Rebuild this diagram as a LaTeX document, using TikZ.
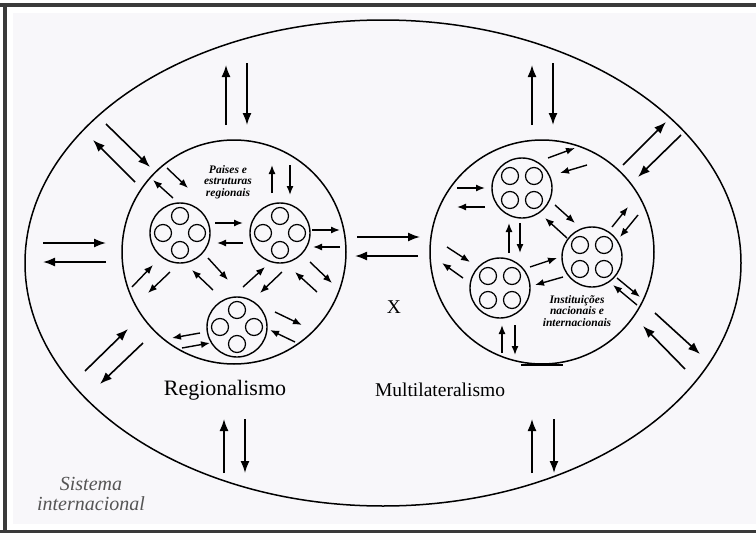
\documentclass[tikz,border=0pt]{standalone}
\usepackage{fontspec}
\setmainfont{Liberation Serif}
\usepackage{tikz}
\usetikzlibrary{arrows.meta}
\definecolor{framegray}{RGB}{58,58,58}
\definecolor{paper}{RGB}{248,247,250}
\definecolor{labelgray}{RGB}{85,85,85}
\tikzstyle{system} = [line width=1.5pt]
\tikzstyle{bloc} = [circle, draw=black, line width=1.5pt, minimum
    size=224pt, inner sep=0pt]
\tikzstyle{member} = [circle, draw=black, line width=1.4pt, minimum
    size=60pt, inner sep=0pt]
\tikzstyle{unit} = [line width=1.2pt]
\tikzstyle{arrow} = [line width=1.6pt, -{Latex[length=12pt,width=9pt]}]
\tikzstyle{smallarrow} = [line width=1.4pt, -{Latex[length=9pt,width=7pt]}]
\tikzstyle{tag} = [font=\fontsize{11.5}{11.5}\selectfont\bfseries\itshape,
    align=center, inner sep=0pt]
\tikzstyle{title} = [font=\fontsize{19.5}{19.5}\selectfont, inner sep=0pt]

\begin{document}
\begin{tikzpicture}[x=1pt,y=-1pt]
            \useasboundingbox (0,0) rectangle (756,533);
            % Frame
            \fill[white] (0,0) rectangle (756,533);
            \fill[paper] (13,13) rectangle (756,524);
            \fill[framegray] (0,3) rectangle (756,7);
            \fill[framegray] (3,3) rectangle (7,533);
            \fill[framegray] (0,530) rectangle (756,533);
            % International system
            \draw[system] (383,263) ellipse [x radius=358, y radius=243];
            % Blocs
            \node[bloc] (regio) at (234,252) {};
            \node[bloc] (multi) at (542,252) {};
            \draw[line width=2.6pt] (521,365) -- (563,365);
            % Members
            \node[member] (ra) at (180,233) {};
            \node[member] (rb) at (280,233) {};
            \node[member] (rc) at (237,327) {};
            \node[member] (ma) at (522,188) {};
            \node[member] (mb) at (592,257) {};
            \node[member] (mc) at (500,288) {};
            \foreach \n in {ra,rb,rc}
                \foreach \a in {0,90,180,270}
                    \draw[unit] (\n) ++(\a:17) circle (8.5);
            \foreach \n in {ma,mb,mc}
                \foreach \dx/\dy in {-12/-12,12/-12,-12/12,12/12}
                    \draw[unit] (\n) ++(\dx,\dy) circle (8.5);
            % Labels
            \node[tag] (paises) at (228,182) {Paises e\\estruturas\\regionais};
            \node[tag] (inst) at (577,311) {Instituições\\nacionais e\\internacionais};
            \node[title, font=\fontsize{22}{22}\selectfont] (regional) at (225,390) {Regionalismo};
            \node[title] (multilat) at (440,390) {Multilateralismo};
            \node[title] (versus) at (394,307) {X};
            \node[font=\fontsize{20}{20}\selectfont\itshape, text=labelgray,
            align=center, inner sep=0pt] (sistema) at (91,494) {Sistema\\internacional};
            % Arrows
            \foreach \xa/\ya/\xb/\yb in {226/125/226/65, 247/63/247/125,
                532/125/532/65, 553/63/553/125, 135/182/93/140, 106/124/150/167,
                43/243/106/243, 106/262/43/262, 85/371/128/329, 143/343/100/384,
                224/473/224/419, 245/419/245/473, 532/473/532/419, 554/419/554/473,
                357/237/420/237, 418/256/355/256, 623/165/666/122, 681/135/638/177,
                685/369/643/326, 655/313/700/354}
                \draw[arrow] (\xa,\ya) -- (\xb,\yb);
            \foreach \xa/\ya/\xb/\yb in {215/223/243/223, 243/243/217/243,
                272/193/272/165, 290/165/290/195, 173/198/153/180, 167/168/188/188,
                312/230/340/230, 340/247/313/247, 132/287/153/265, 170/272/148/293,
                208/258/228/280, 213/290/192/270, 243/287/265/267, 282/272/260/293,
                317/292/295/272, 310/262/332/283, 275/312/302/325, 295/342/270/330,
                200/333/172/338, 182/348/210/343}
                \draw[smallarrow] (\xa,\ya) -- (\xb,\yb);
            \foreach \xa/\ya/\xb/\yb in {548/158/575/148, 587/165/560/173,
                457/188/485/188, 485/207/457/207, 555/205/575/223, 567/238/545/218,
                509/253/509/223, 520/223/520/253, 447/247/470/262, 463/278/442/263,
                530/267/557/258, 563/277/535/285, 612/227/628/207, 638/215/620/237,
                617/278/640/297, 637/305/613/285, 502/353/502/325, 515/325/515/355}
                \draw[smallarrow] (\xa,\ya) -- (\xb,\yb);
        \end{tikzpicture}
\end{document}
